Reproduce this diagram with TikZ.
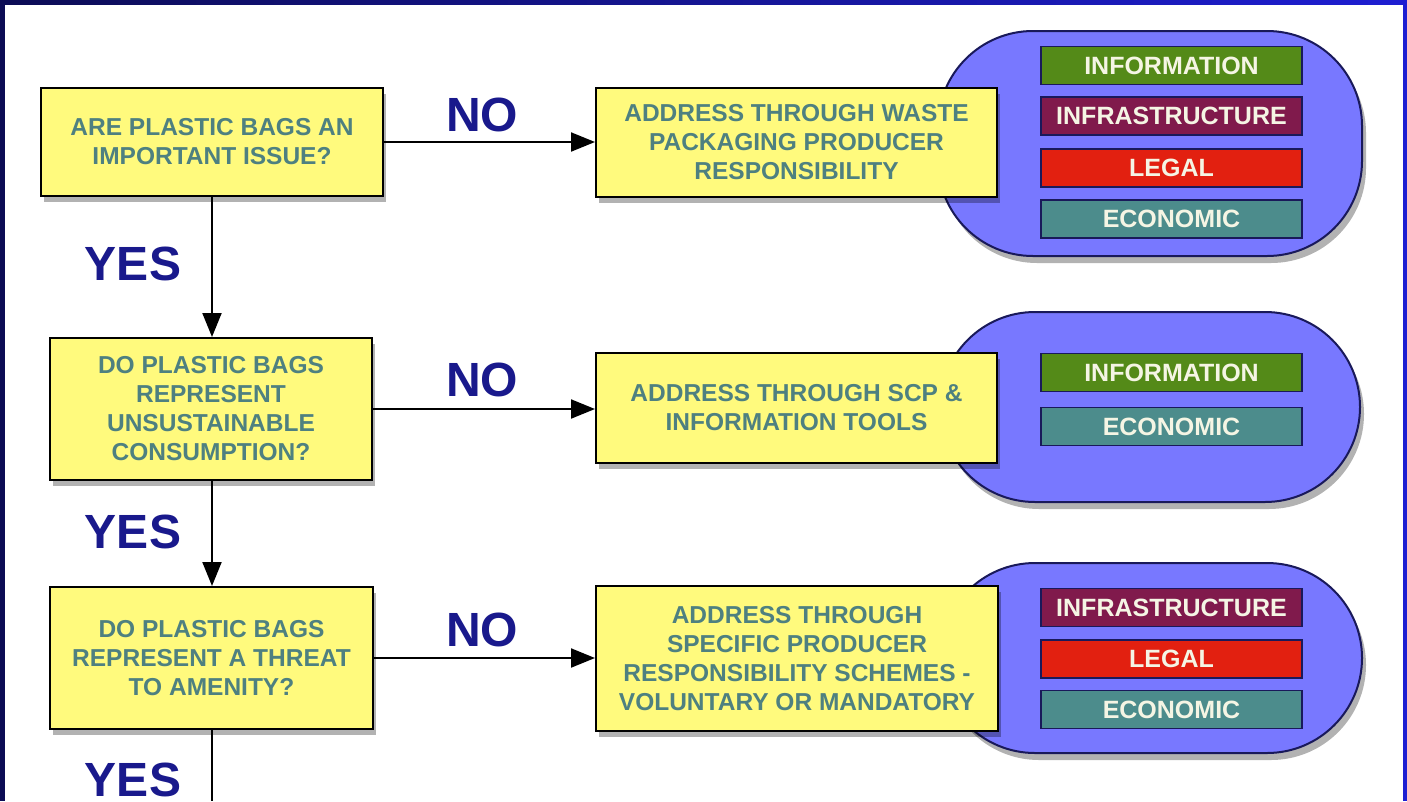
\documentclass[tikz,border=0pt]{standalone}
\usepackage{fontspec}
\setmainfont{Liberation Sans}
\usetikzlibrary{arrows.meta,shadows}
\definecolor{navy}{RGB}{12,12,85}
\definecolor{frameblue}{RGB}{30,30,210}
\definecolor{boxyellow}{RGB}{255,250,125}
\definecolor{boxtext}{RGB}{78,128,128}
\definecolor{pillblue}{RGB}{120,120,255}
\definecolor{pillline}{RGB}{25,25,90}
\definecolor{yesno}{RGB}{25,25,140}
\definecolor{infogreen}{RGB}{84,138,24}
\definecolor{inframaroon}{RGB}{128,26,76}
\definecolor{legalred}{RGB}{226,32,16}
\definecolor{econteal}{RGB}{76,140,140}
\definecolor{bartext}{RGB}{245,245,228}
\tikzset{
  ybox/.style={draw=black, line width=2pt, fill=boxyellow, text=boxtext,
    font=\fontsize{24.5}{29}\selectfont\bfseries, align=center, inner sep=0pt,
    drop shadow={shadow xshift=3pt, shadow yshift=-6pt, opacity=0.3, fill=black}},
  pill/.style={draw=pillline, line width=2pt, fill=pillblue, rounded corners=95pt,
    inner sep=0pt,
    drop shadow={shadow xshift=4pt, shadow yshift=-7pt, opacity=0.3, fill=black}},
  catbar/.style={draw=pillline, line width=1.5pt, text=bartext, minimum width=261pt,
    minimum height=38pt, inner sep=0pt, font=\fontsize{25}{28}\selectfont\bfseries},
  answer/.style={text=yesno, inner sep=0pt, font=\fontsize{48}{52}\selectfont\bfseries},
  link/.style={draw=black, line width=2pt, -{Triangle[length=24pt,width=19pt]}},
  plainlink/.style={draw=black, line width=2pt}
}
\begin{document}
\begin{tikzpicture}[x=1pt,y=-1pt]
\useasboundingbox (0,0) rectangle (1407,801);
% frame
\fill[navy] (0,0) rectangle (1407,801);
\shade[left color=navy, right color=frameblue] (0,0) rectangle (1407,5);
\fill[frameblue] (1403,0) rectangle (1407,801);
\fill[white] (5,5) rectangle (1403,801);

% pills
\node[pill, minimum width=424pt, minimum height=225pt] (s1) at (1150,143.5) {};
\node[pill, minimum width=420pt, minimum height=190pt] (s2) at (1150,407) {};
\node[pill, minimum width=422pt, minimum height=190pt] (s3) at (1151,658) {};

% category bars
\node[catbar, fill=infogreen] (s1a) at (1171.5,65.5) {INFORMATION};
\node[catbar, fill=inframaroon] (s1b) at (1171.5,116) {INFRASTRUCTURE};
\node[catbar, fill=legalred] (s1c) at (1171.5,168) {LEGAL};
\node[catbar, fill=econteal] (s1d) at (1171.5,219) {ECONOMIC};
\node[catbar, fill=infogreen] (s2a) at (1171.5,372.5) {INFORMATION};
\node[catbar, fill=econteal] (s2b) at (1171.5,426.5) {ECONOMIC};
\node[catbar, fill=inframaroon] (s3a) at (1171.5,607.5) {INFRASTRUCTURE};
\node[catbar, fill=legalred] (s3b) at (1171.5,659) {LEGAL};
\node[catbar, fill=econteal] (s3c) at (1171.5,709.5) {ECONOMIC};

% question boxes
\node[ybox, minimum width=342pt, minimum height=108pt] (q1) at (212,142)
  {ARE PLASTIC BAGS AN\\IMPORTANT ISSUE?};
\node[ybox, minimum width=322pt, minimum height=142pt] (q2) at (211,409)
  {DO PLASTIC BAGS\\REPRESENT\\UNSUSTAINABLE\\CONSUMPTION?};
\node[ybox, minimum width=323pt, minimum height=142pt] (q3) at (211.5,658)
  {DO PLASTIC BAGS\\REPRESENT A THREAT\\TO AMENITY?};

% action boxes
\node[ybox, minimum width=401pt, minimum height=109pt] (r1) at (796.5,142.5)
  {ADDRESS THROUGH WASTE\\PACKAGING PRODUCER\\RESPONSIBILITY};
\node[ybox, minimum width=401pt, minimum height=110pt] (r2) at (796.5,408)
  {ADDRESS THROUGH SCP \&\\INFORMATION TOOLS};
\node[ybox, minimum width=402pt, minimum height=145pt] (r3) at (797,658.5)
  {ADDRESS THROUGH\\SPECIFIC PRODUCER\\RESPONSIBILITY SCHEMES -\\VOLUNTARY OR MANDATORY};

% connectors
\draw[link] (q1.south -| 212,0) -- (q2.north -| 212,0);
\draw[link] (q2.south -| 212,0) -- (q3.north -| 212,0);
\coordinate (tail) at (212,801);
\draw[plainlink] (q3.south -| 212,0) -- (tail);
\draw[link] (q1.east) -- (r1.west |- q1.east);
\draw[link] (q2.east) -- (r2.west |- q2.east);
\draw[link] (q3.east) -- (r3.west |- q3.east);

% answers
\node[answer] (y1) at (133,264) {YES};
\node[answer] (y2) at (133,532) {YES};
\node[answer] (y3) at (133,780) {YES};
\node[answer] (n1) at (482,115) {NO};
\node[answer] (n2) at (482,380) {NO};
\node[answer] (n3) at (482,630) {NO};
\end{tikzpicture}
\end{document}
